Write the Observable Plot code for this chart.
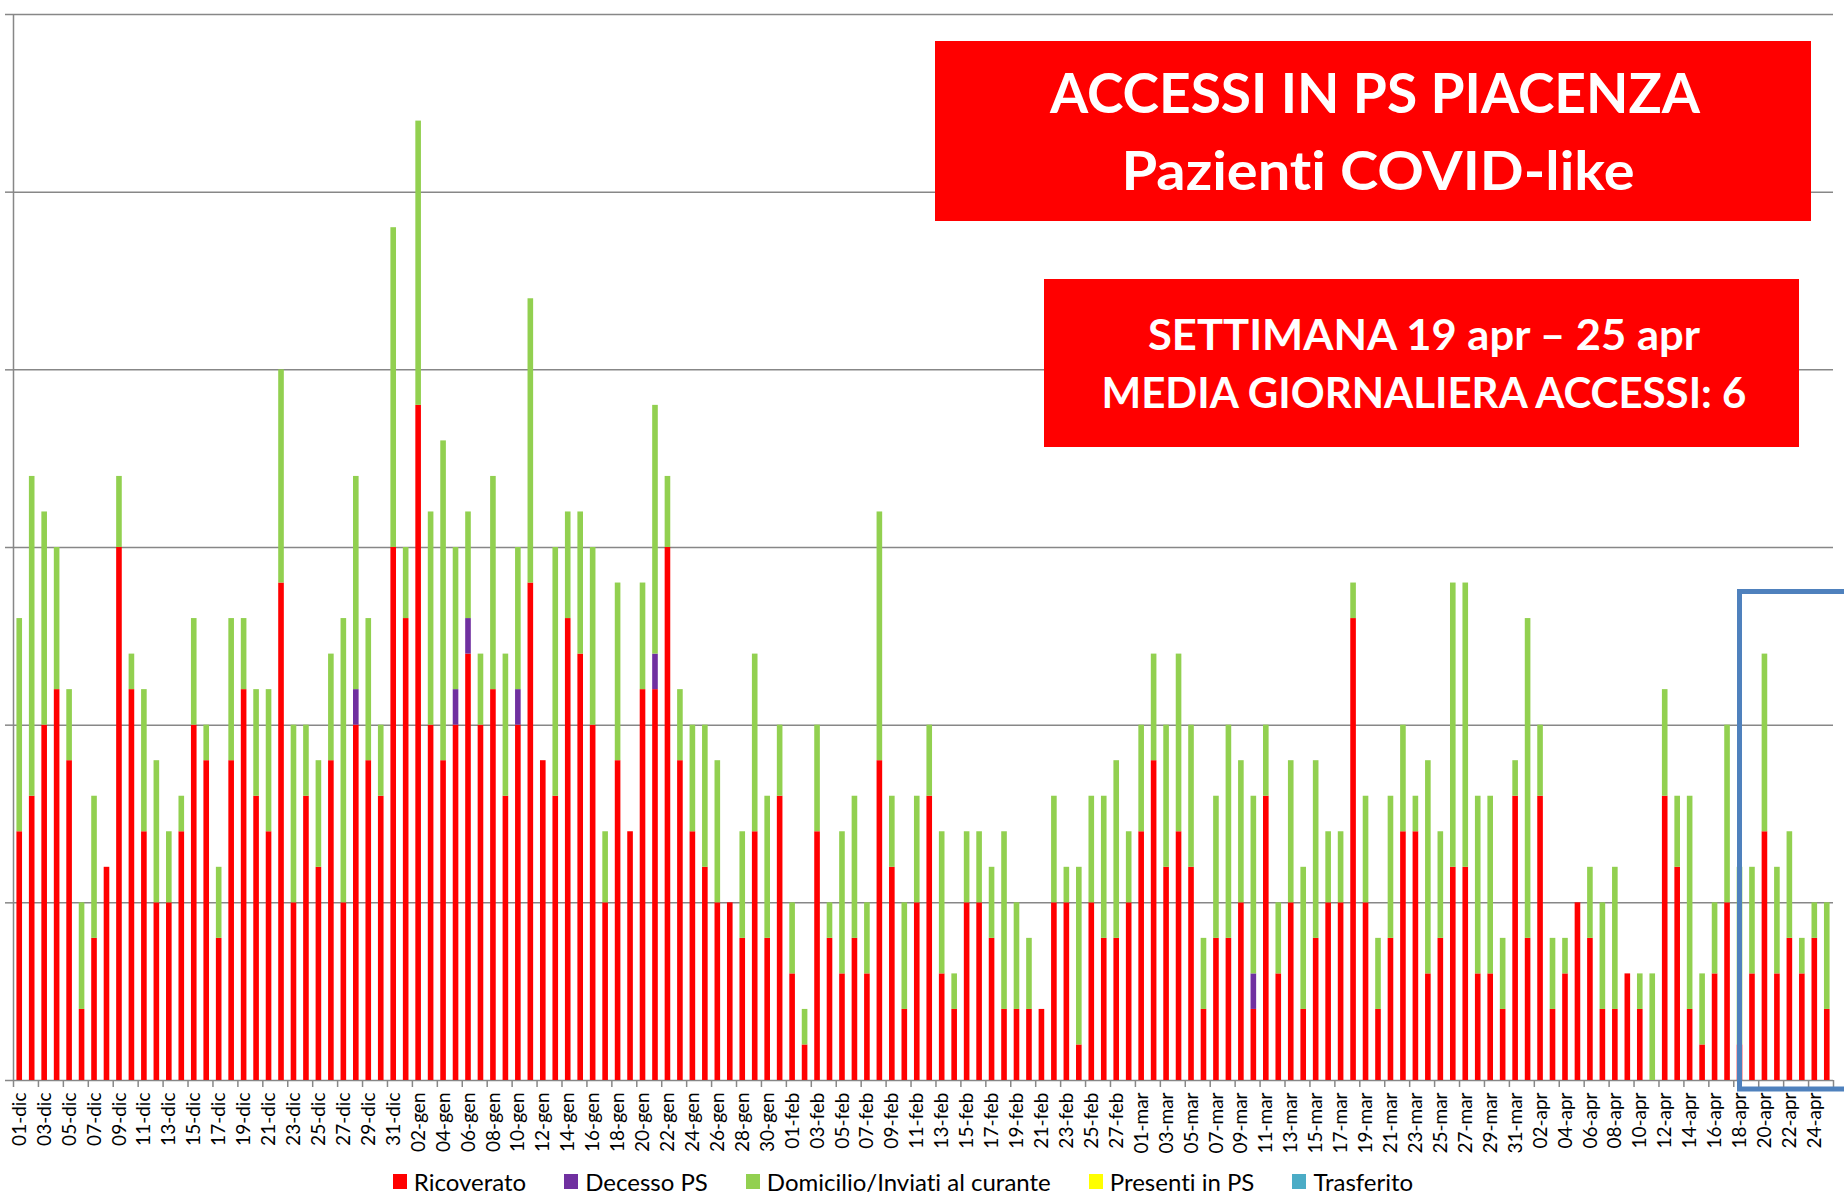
<!DOCTYPE html>
<html>
<head>
<meta charset="utf-8">
<script src="https://cdn.jsdelivr.net/npm/d3@7"></script>
<script src="https://cdn.jsdelivr.net/npm/@observablehq/plot@0.6"></script>
<style>
  body { margin: 0; background: #fff; font-family: Lato, "Open Sans", sans-serif; }
  #wrap { position: relative; width: 1844px; height: 1195px; overflow: hidden; background: #fff; }
  #chart { position: absolute; left: 0; top: 0; }
  #overlay { position: absolute; left: 0; top: 0; pointer-events: none; font-variant-ligatures: none; }
  #legend { position: absolute; left: -19px; top: 1164px; width: 1844px; height: 34px;
            display: flex; justify-content: center; align-items: center; gap: 38px;
            font-family: Lato, sans-serif; font-size: 24px; color: #000; font-variant-ligatures: none; }
  #legend .item { display: flex; align-items: center; white-space: nowrap; }
  #legend .sw { width: 14px; height: 15px; margin-right: 7px; display: inline-block; }
</style>
</head>
<body>
<div id="wrap">
  <div id="chart"></div>
  <div id="legend"></div>
</div>
<script>
// ---- categories (days 01-dic .. 25-apr) ----
const monthNames = ["dic", "gen", "feb", "mar", "apr"];
const monthLengths = [31, 31, 28, 31, 25];
const days = monthNames.flatMap((m, k) =>
  Array.from({length: monthLengths[k]}, (_, i) => String(i + 1).padStart(2, "0") + "-" + m));

// ---- series values (patients per day) ----
const ricoverato = [
  7, 8, 10, 11, 9, 2, 4, 6, 15, 11, 7, 5, 5, 7, 10, 9, 4, 9, 11, 8, 7, 14, 5, 8, 6, 9, 5, 10, 9, 8, 15,
  13, 19, 10, 9, 10, 12, 10, 11, 8, 10, 14, 9, 8, 13, 12, 10, 5, 9, 7, 11, 11, 15, 9, 7, 6, 5, 5, 4, 7, 4, 8,
  3, 1, 7, 4, 3, 4, 3, 9, 6, 2, 5, 8, 3, 2, 5, 5, 4, 2, 2, 2, 2, 5, 5, 1, 5, 4, 4, 5,
  7, 9, 6, 7, 6, 2, 4, 4, 5, 2, 8, 3, 5, 2, 4, 5, 5, 13, 5, 2, 4, 7, 7, 3, 4, 6, 6, 3, 3, 2, 8,
  4, 8, 2, 3, 5, 4, 2, 2, 3, 2, 0, 8, 6, 2, 1, 3, 5, 1, 3, 7, 3, 4, 3, 4, 2
];
const decessoPS = [
  0, 0, 0, 0, 0, 0, 0, 0, 0, 0, 0, 0, 0, 0, 0, 0, 0, 0, 0, 0, 0, 0, 0, 0, 0, 0, 0, 1, 0, 0, 0,
  0, 0, 0, 0, 1, 1, 0, 0, 0, 1, 0, 0, 0, 0, 0, 0, 0, 0, 0, 0, 1, 0, 0, 0, 0, 0, 0, 0, 0, 0, 0,
  0, 0, 0, 0, 0, 0, 0, 0, 0, 0, 0, 0, 0, 0, 0, 0, 0, 0, 0, 0, 0, 0, 0, 0, 0, 0, 0, 0,
  0, 0, 0, 0, 0, 0, 0, 0, 0, 1, 0, 0, 0, 0, 0, 0, 0, 0, 0, 0, 0, 0, 0, 0, 0, 0, 0, 0, 0, 0, 0,
  0, 0, 0, 0, 0, 0, 0, 0, 0, 0, 0, 0, 0, 0, 0, 0, 0, 0, 0, 0, 0, 0, 0, 0, 0
];
const domicilio = [
  6, 9, 6, 4, 2, 3, 4, 0, 2, 1, 4, 4, 2, 1, 3, 1, 2, 4, 2, 3, 4, 6, 5, 2, 3, 3, 8, 6, 4, 2, 9,
  2, 8, 6, 9, 4, 3, 2, 6, 4, 4, 8, 0, 7, 3, 4, 5, 2, 5, 0, 3, 7, 2, 2, 3, 4, 4, 0, 3, 5, 4, 2,
  2, 1, 3, 1, 4, 4, 2, 7, 2, 3, 3, 2, 4, 1, 2, 2, 2, 5, 3, 2, 0, 3, 1, 5, 3, 4, 5, 2,
  3, 3, 4, 5, 4, 2, 4, 6, 4, 5, 2, 2, 4, 4, 5, 2, 2, 1, 3, 2, 4, 3, 1, 6, 3, 8, 8, 5, 5, 2, 1,
  9, 2, 2, 1, 0, 2, 3, 4, 0, 1, 3, 3, 2, 6, 2, 2, 5, 5, 3, 5, 3, 3, 1, 1, 3
];

const seriesNames = ["Ricoverato", "Decesso PS", "Domicilio/Inviati al curante", "Presenti in PS", "Trasferito"];
const seriesColors = ["#FF0000", "#7030A0", "#92D050", "#FFFF00", "#4BACC6"];
const yTicks = [0, 5, 10, 15, 20, 25, 30];
const labelDays = days.filter((d, i) => i % 2 === 0);

// annotations
const titleLines = ["ACCESSI IN PS PIACENZA", "Pazienti COVID-like"];
const weekLines = ["SETTIMANA 19 apr \u2013 25 apr", "MEDIA GIORNALIERA ACCESSI: 6"];
const highlightFrom = "18-apr";
const highlightTop = 13.75;
const highlightBottom = -0.25;

// ---- build the long table for stacking ----
const table = [];
days.forEach((d, i) => {
  table.push({day: d, series: seriesNames[0], value: ricoverato[i]});
  table.push({day: d, series: seriesNames[1], value: decessoPS[i]});
  table.push({day: d, series: seriesNames[2], value: domicilio[i]});
});

const W = 1844, H = 1152, mL = 13, mR = 11, mT = 14, mB = H - 1080;
const step = (W - mL - mR) / days.length;
const grid = "#878787";

const chart = Plot.plot({
  width: W, height: H,
  marginLeft: mL, marginRight: mR, marginTop: mT, marginBottom: mB,
  style: {fontFamily: "Lato, sans-serif", background: "white", overflow: "visible"},
  x: {type: "band", domain: days, paddingInner: 0.55, paddingOuter: 0.275, axis: null, label: null},
  y: {domain: [0, 30], axis: null, label: null},
  color: {domain: seriesNames, range: seriesColors},
  marks: [
    Plot.ruleY(yTicks, {stroke: grid, strokeWidth: 1.5}),
    Plot.ruleX([days[0]], {dx: -step / 2, y1: 0, y2: 30, stroke: grid, strokeWidth: 1.5}),
    Plot.axisY({ticks: yTicks, tickSize: 8, tickFormat: () => "", label: null, stroke: grid, strokeWidth: 1.5}),
    Plot.barY(table, {x: "day", y: "value", fill: "series", order: seriesNames}),
    Plot.axisX({ticks: labelDays, tickSize: 7, tickFormat: () => "", label: null, dx: -step / 2, stroke: grid, strokeWidth: 1.5}),
    Plot.ruleX([days[days.length - 1]], {dx: step / 2, y1: 0, y2: 0, insetBottom: -7, stroke: grid, strokeWidth: 1.5}),
    Plot.axisX({ticks: labelDays, tickSize: 0, tickRotate: -90, tickPadding: 12, fontSize: 19, fill: "#000", label: null})
  ]
});
document.getElementById("chart").appendChild(chart);

// ---- overlay: title boxes and highlight frame ----
const xs = chart.scale("x"), ys = chart.scale("y");
const ov = d3.select("#wrap").append("svg").attr("id", "overlay")
  .attr("width", 1844).attr("height", 1195);

const hx = xs.apply(highlightFrom) + xs.bandwidth / 2;
const hy1 = ys.apply(highlightTop), hy2 = ys.apply(highlightBottom);
ov.append("path")
  .attr("d", `M${1844 + 20},${hy1}H${hx}V${hy2}H${1844 + 20}`)
  .attr("fill", "none").attr("stroke", "#4F81BD").attr("stroke-width", 5);

function box(x, y, w, h, lines) {
  ov.append("rect").attr("x", x).attr("y", y).attr("width", w).attr("height", h).attr("fill", "#FF0000");
  lines.forEach(l => {
    ov.append("text").attr("x", l.cx).attr("y", l.y).attr("text-anchor", "middle")
      .attr("font-family", "Lato, sans-serif").attr("font-weight", 700)
      .attr("font-size", l.size).attr("fill", "#fff")
      .style("font-variant-ligatures", "none")
      .attr("textLength", l.len).attr("lengthAdjust", "spacingAndGlyphs")
      .text(l.text);
  });
}
box(935, 41, 876, 180, [
  {text: titleLines[0], cx: 1375, y: 113, size: 56, len: 650},
  {text: titleLines[1], cx: 1378, y: 190, size: 54, len: 513}
]);
box(1044, 279, 755, 168, [
  {text: weekLines[0], cx: 1424, y: 350, size: 42, len: 552},
  {text: weekLines[1], cx: 1424, y: 408, size: 42, len: 645}
]);

// ---- legend ----
const lg = d3.select("#legend");
seriesNames.forEach((n, i) => {
  const it = lg.append("div").attr("class", "item");
  it.append("span").attr("class", "sw").style("background", seriesColors[i]);
  it.append("span").text(n);
});
</script>
</body>
</html>
